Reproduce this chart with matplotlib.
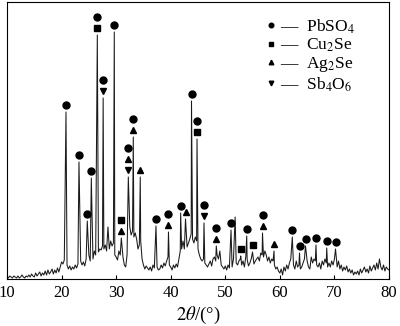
import numpy as np
import matplotlib.pyplot as plt
from matplotlib.lines import Line2D
from matplotlib.transforms import offset_copy

plt.rcParams['font.family'] = ['Liberation Serif', 'DejaVu Serif']
plt.rcParams['mathtext.fontset'] = 'stix'

# background / noise read every 0.25 deg from 10 to 80 (arbitrary intensity units)
bg_start = 10.0
bg_step = 0.25
background = [
    2, 1, 3, 2,  1, 3, 2, 1,      # 10-11
    3, 1, 2, 4,  2, 1, 3, 2,      # 12-13
    4, 2, 5, 3,  2, 6, 3, 5,      # 14-15
    7, 3, 6, 4,  8, 4, 9, 5,      # 16-17
    7, 10, 5, 9,  6, 11, 7, 12,   # 18-19
    17, 15, 19, 22,  14, 10, 13, 9,   # 20-21
    12, 10, 14, 11,  15, 13, 18, 14,  # 22-23
    17, 13, 20, 16,  24, 18, 22, 20,  # 24-25
    28, 24, 32, 27,  30, 29, 33, 30,  # 26-27
    34, 28, 52, 30,  38, 33, 36, 24,  # 28-29
    22, 19, 28, 24,  30, 22, 14, 12,  # 30-31
    24, 30, 52, 44,  48, 42, 46, 40,  # 32-33
    30, 34, 38, 20,  14, 10, 13, 11,  # 34-35
    9, 12, 8, 14,  11, 16, 12, 9,     # 36-37
    10, 14, 11, 16,  13, 18, 22, 14,  # 38-39
    12, 9, 14, 11,  15, 12, 20, 28,   # 40-41
    30, 38, 30, 34,  32, 36, 40, 45,  # 42-43
    40, 36, 42, 38,  30, 24, 20, 18,  # 44-45
    20, 16, 14, 12,  15, 18, 13, 20,  # 46-47
    22, 18, 24, 20,  28, 14, 12, 10,  # 48-49
    13, 9, 14, 11,  16, 12, 20, 18,   # 50-51
    16, 14, 18, 20,  14, 18, 12, 22,  # 52-53
    20, 13, 16, 20,  22, 15, 18, 20,  # 54-55
    22, 18, 26, 24,  22, 28, 24, 18,  # 56-57
    22, 16, 20, 18,  14, 10, 12, 8,   # 58-59
    6, 10, 4, 12,  8, 14, 10, 16,     # 60-61
    20, 16, 14, 10,  18, 12, 14, 10,  # 62-63
    12, 16, 20, 14,  18, 12, 10, 22,  # 64-65
    16, 20, 18, 14,  12, 16, 10, 18,  # 66-67
    14, 20, 16, 12,  16, 12, 18, 14,  # 68-69
    20, 16, 12, 18,  10, 14, 8, 12,   # 70-71
    9, 13, 7, 10,  6, 9, 4, 7,        # 72-73
    5, 8, 4, 10,  6, 9, 12, 7,        # 74-75
    10, 6, 13, 8,  11, 14, 9, 16,     # 76-77
    10, 20, 12, 9,  14, 8, 12, 10,    # 78-79
    9,                                # 80
]

# diffraction peaks: position (2theta), top intensity, phases from top to bottom
peak_pos = [20.81, 23.19, 24.71, 25.45, 26.55, 27.62, 29.66, 30.95, 32.23, 33.14,
            34.42, 37.30, 39.59, 41.82, 42.71, 43.81, 44.82, 46.10, 48.35, 51.05,
            51.80, 52.83, 53.93, 54.99, 56.82, 58.93, 62.28, 63.60, 64.70, 66.62,
            68.59, 70.20]
peak_int = [167, 117, 58, 101, 244, 181, 247, 41, 102, 142,
            102, 53, 47, 66, 60, 178, 140, 56, 33, 49,
            62, 23, 43, 27, 46, 28, 42, 26, 33, 34,
            31, 30]
peak_phase = ['o', 'o', 'o', 'o', 'os', 'ov', 'o', 's^', 'o^v', 'o^',
              '^', 'o', 'o^', 'o', '^', 'o', 'os', 'ov', 'o^', 'o',
              '', 's', 'o', 's', 'o^', '^', 'o', 'o', 'o', 'o',
              'o', 'o']

phase_names = ['PbSO$_4$', 'Cu$_2$Se', 'Ag$_2$Se', 'Sb$_4$O$_6$']
phase_marks = ['o', 's', '^', 'v']
mark_size = {'o': 5, 's': 4.3, '^': 5, 'v': 5}

# merge background and peaks into one trace
bg_x = bg_start + bg_step * np.arange(len(background))
bg_y = np.array(background, dtype=float)
px = np.array(peak_pos)
keep = np.min(np.abs(bg_x[:, None] - px[None, :]), axis=1) > 0.06
x = np.concatenate([bg_x[keep], px])
y = np.concatenate([bg_y[keep], np.array(peak_int, dtype=float)])
order = np.argsort(x)
x, y = x[order], y[order]

fig = plt.figure(figsize=(4.0, 3.26), dpi=100)
ax = fig.add_axes([0.0175, 0.1442, 0.955, 0.8497])
ax.plot(x, y, color='#1a1a1a', lw=0.75)

for pos, inten, ph in zip(peak_pos, peak_int, peak_phase):
    for k, m in enumerate(reversed(ph)):
        tr = offset_copy(ax.transData, fig=fig, x=0, y=7 + 11 * k, units='dots')
        ax.plot(pos, inten, marker=m, color='k', markersize=mark_size[m],
                linestyle='none', transform=tr)

handles = [Line2D([], [], marker=m, color='k', linestyle='none', markersize=3.3)
           for m in phase_marks]
labels = [' \u2014  ' + n for n in phase_names]
ax.legend(handles, labels, loc='upper left', bbox_to_anchor=(0.677, 0.944),
          frameon=False, fontsize=12.5, handlelength=0.6, handletextpad=0.0,
          labelspacing=0.06, borderpad=0, borderaxespad=0)

ax.set_xlim(10, 80)
ax.set_ylim(0, 277)
ax.set_xticks([10, 20, 30, 40, 50, 60, 70, 80])
ax.set_yticks([])
ax.tick_params(axis='x', direction='in', length=3, width=0.8, labelsize=12, pad=4)
for s in ax.spines.values():
    s.set_linewidth(0.8)
ax.set_xlabel('$2\\theta$/(°)', fontsize=13.5, labelpad=3)

fig.savefig('out.png', dpi=100)
